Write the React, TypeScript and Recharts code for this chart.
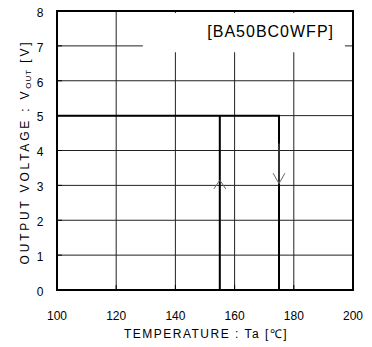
import React from "react";
import {
  ComposedChart,
  Line,
  XAxis,
  YAxis,
  CartesianGrid,
  ReferenceArea,
} from "recharts";

// 軸の目盛り
const tempTicks = [100, 120, 140, 160, 180, 200];
const voltTicks = [0, 1, 2, 3, 4, 5, 6, 7, 8];

// 出力電圧 (温度上昇時: 175℃でシャットダウン)
const outputLine = [
  { ta: 100, v: 5 },
  { ta: 175, v: 5 },
  { ta: 175, v: 0 },
];
// 復帰 (155℃)
const recoverLine = [
  { ta: 155, v: 5 },
  { ta: 155, v: 0 },
];
// 矢印
const upArrow = [
  { ta: 153, v: 2.9 },
  { ta: 155, v: 3.15 },
  { ta: 157, v: 2.9 },
];
const downShaft = [
  { ta: 175, v: 4.2 },
  { ta: 175, v: 3.05 },
];
const downArrow = [
  { ta: 173, v: 3.35 },
  { ta: 175, v: 3.05 },
  { ta: 177, v: 3.35 },
];

const FONT = "'Liberation Sans', Arial, sans-serif";

const XTick = ({ x, y, payload }: any) => (
  <g>
    <line x1={x} x2={x} y1={y - 5} y2={y} stroke="#000" />
    <text x={x} y={y + 30} textAnchor="middle" fontSize={12} fill="#000" fontFamily={FONT}>
      {payload.value}
    </text>
  </g>
);

const YTick = ({ x, y, payload }: any) => (
  <g>
    <line x1={x} x2={x + 5} y1={y} y2={y} stroke="#000" />
    <text x={x - 13.5} y={y + 5.8} textAnchor="end" fontSize={12} fill="#000" fontFamily={FONT}>
      {payload.value}
    </text>
  </g>
);

const YTitle = () => (
  <text
    x={0}
    y={0}
    transform="translate(29, 152) rotate(-90)"
    textAnchor="middle"
    fontSize={12}
    fill="#000"
    fontFamily={FONT}
    letterSpacing={2.8}
  >
    OUTPUT VOLTAGE : V
    <tspan fontSize={8} dy={2} letterSpacing={1}>OUT</tspan>
    <tspan dy={-2}> [V]</tspan>
  </text>
);

const XTitle = () => (
  <text x={206} y={338} textAnchor="middle" fontSize={12} fill="#000" fontFamily={FONT} letterSpacing={1.5}>
    TEMPERATURE : Ta [℃]
  </text>
);

const PartLabel = ({ viewBox }: any) => (
  <text
    x={viewBox.x + viewBox.width - 11}
    y={37}
    textAnchor="end"
    fontSize={16}
    fill="#000"
    fontFamily={FONT}
    letterSpacing={1}
  >
    [BA50BC0WFP]
  </text>
);

export default function App() {
  return (
    <div style={{ position: "absolute", left: 0, top: 0, background: "#fff" }}>
      <ComposedChart
        width={372}
        height={347}
        margin={{ top: 11, right: 19, left: 0, bottom: 0 }}
      >
        <CartesianGrid
          stroke="#222"
          strokeWidth={1}
          horizontalValues={voltTicks}
          verticalValues={tempTicks}
        />
        <XAxis
          type="number"
          dataKey="ta"
          domain={[100, 200]}
          ticks={tempTicks}
          height={57}
          axisLine={false}
          tickLine={false}
          tickSize={0}
          tickMargin={0}
          tick={<XTick />}
          label={<XTitle />}
        />
        <YAxis
          type="number"
          dataKey="v"
          domain={[0, 8]}
          ticks={voltTicks}
          width={57}
          axisLine={false}
          tickLine={false}
          tickSize={0}
          tickMargin={0}
          tick={<YTick />}
          label={<YTitle />}
        />
        <ReferenceArea
          x1={129}
          x2={197.3}
          y1={6.82}
          y2={7.94}
          fill="#fff"
          fillOpacity={1}
          stroke="none"
          label={<PartLabel />}
        />
        <ReferenceArea
          x1={100}
          x2={200}
          y1={0}
          y2={8}
          fill="none"
          stroke="#000"
          strokeWidth={2}
        />
        <Line data={outputLine} dataKey="v" stroke="#000" strokeWidth={2} dot={false} isAnimationActive={false} />
        <Line data={recoverLine} dataKey="v" stroke="#000" strokeWidth={2} dot={false} isAnimationActive={false} />
        <Line data={upArrow} dataKey="v" stroke="#666" strokeWidth={1} dot={false} isAnimationActive={false} />
        <Line data={downShaft} dataKey="v" stroke="#666" strokeWidth={1} dot={false} isAnimationActive={false} />
        <Line data={downArrow} dataKey="v" stroke="#666" strokeWidth={1} dot={false} isAnimationActive={false} />
      </ComposedChart>
    </div>
  );
}
